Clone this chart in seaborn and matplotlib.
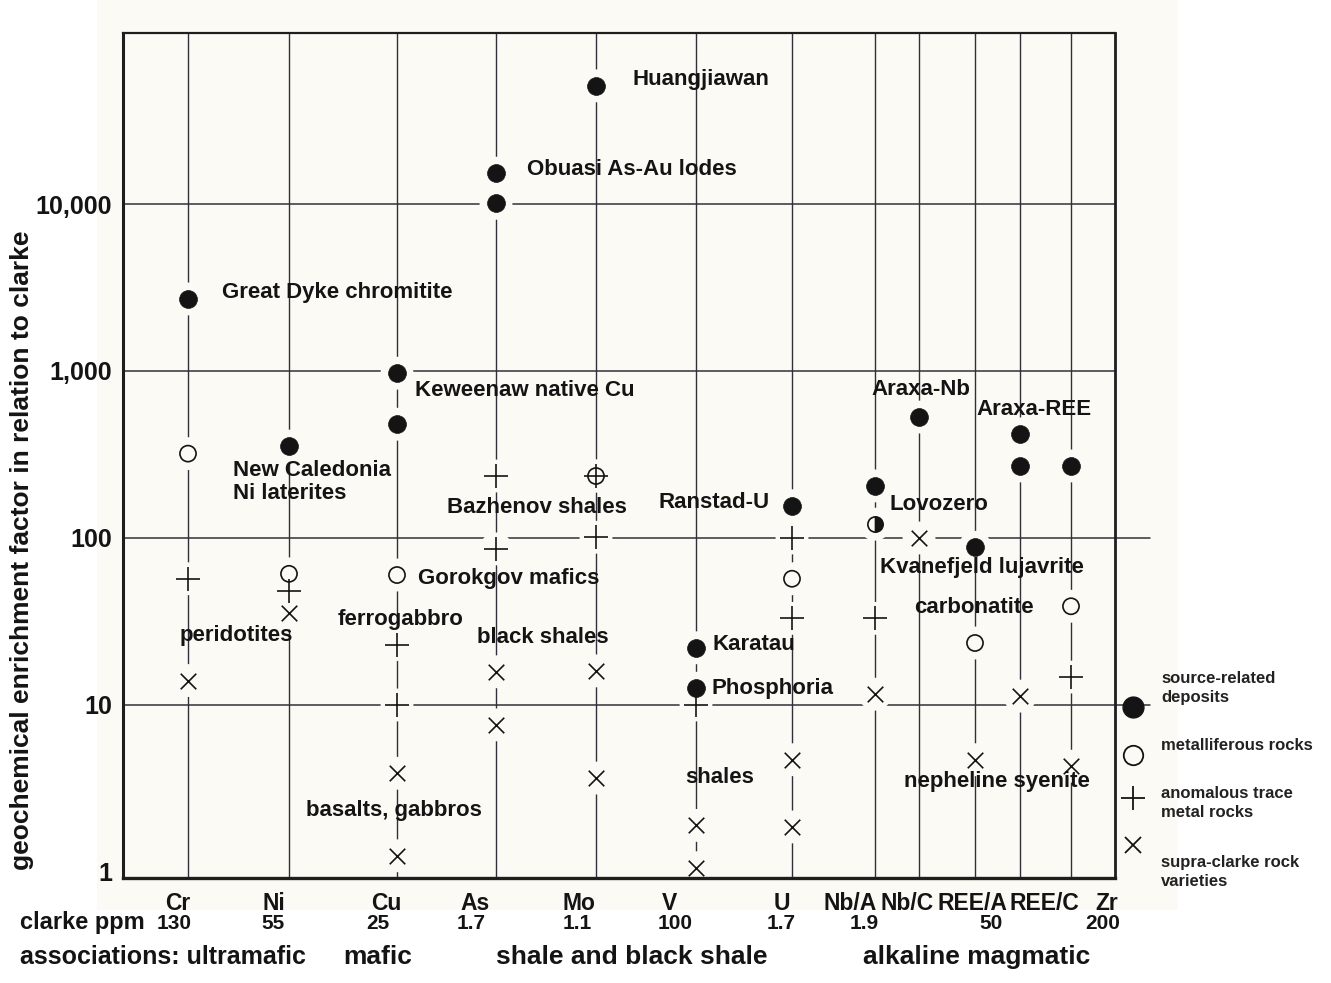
import numpy as np
import pandas as pd
import matplotlib
matplotlib.use("Agg")
import matplotlib.pyplot as plt
import matplotlib.transforms as mtransforms
from matplotlib.patches import Rectangle
from matplotlib.ticker import LogLocator, NullFormatter
import seaborn as sns

# ---------------- data ----------------
elements = ["Cr", "Ni", "Cu", "As", "Mo", "V", "U", "Nb/A", "Nb/C", "REE/A", "REE/C", "Zr"]
clarke_ppm = ["130", "55", "25", "1.7", "1.1", "100", "1.7", "1.9", "50", "200"]

# source-related deposits (filled circles)
deposit_el = ["Cr", "Ni", "Cu", "Cu", "As", "As", "Mo", "V", "V", "U",
              "Nb/A", "Nb/C", "REE/A", "REE/C", "REE/C", "Zr"]
deposit_val = [2700, 355, 970, 480, 15300, 10100, 51000, 22, 12.6, 156,
               205, 530, 88, 420, 270, 270]

# metalliferous rocks (open circles)
metal_el = ["Cr", "Ni", "Cu", "Mo", "U", "REE/A", "Zr"]
metal_val = [320, 61, 60, 235, 57, 23.5, 39]

# anomalous trace metal rocks (+)
anom_el = ["Cr", "Ni", "Cu", "Cu", "As", "As", "Mo", "Mo", "V", "U", "U", "Nb/A", "Zr"]
anom_val = [57, 48, 23, 10, 235, 86, 235, 101, 10, 100, 33, 33, 14.7]

# supra-clarke rock varieties (x)
supra_el = ["Cr", "Ni", "Cu", "Cu", "As", "As", "Mo", "Mo", "V", "V", "U", "U",
            "Nb/A", "Nb/C", "REE/A", "REE/C", "Zr"]
supra_val = [14, 35.5, 3.9, 1.25, 15.8, 7.6, 16, 3.65, 1.9, 1.06, 4.7, 1.86,
             11.6, 100, 4.7, 11.3, 4.3]

# Lovozero (half-filled circle)
lovozero_el = ["Nb/A"]
lovozero_val = [121]

# deposit / rock names
label_text = ["Huangjiawan", "Obuasi As-Au lodes", "Great Dyke chromitite",
              "Keweenaw native Cu", "New Caledonia\nNi laterites", "Bazhenov shales",
              "Ranstad-U", "Gorokgov mafics", "ferrogabbro", "peridotites",
              "black shales", "Karatau", "Phosphoria", "shales", "basalts, gabbros",
              "Araxa-Nb", "Araxa-REE", "Lovozero", "Kvanefjeld lujavrite",
              "carbonatite", "nepheline syenite"]

associations = ["mafic", "shale and black shale", "alkaline magmatic"]

# ---------------- layout ----------------
col_pos = dict(zip(elements, [0.65, 1.66, 2.74, 3.73, 4.73, 5.73, 6.69,
                              7.52, 7.96, 8.52, 8.97, 9.48]))
elem_label_x = [0.55, 1.51, 2.63, 3.52, 4.56, 5.46, 6.59, 7.27, 7.84, 8.49, 9.21, 9.84]
clarke_x = [0.51, 1.50, 2.55, 3.48, 4.54, 5.52, 6.58, 7.41, 8.68, 9.80]
assoc_x = [2.55, 5.09, 8.54]
label_xy = [(5.10, 55300), (4.04, 16000), (0.99, 2970), (2.92, 769), (1.10, 216),
            (3.24, 153), (5.35, 162), (2.95, 57.5), (2.15, 32.7), (0.57, 25.9),
            (3.54, 25.2), (5.89, 22.9), (5.88, 12.5), (5.62, 3.66), (1.83, 2.32),
            (7.48, 780), (8.53, 592), (7.66, 158), (7.57, 67), (7.91, 38.1),
            (7.81, 3.46)]

BG = "#fcfaf4"
INK = "#141414"
GRID = "#30303a"

sns.set_style("white")
plt.rcParams["font.family"] = ["Liberation Sans", "DejaVu Sans"]
plt.rcParams["font.weight"] = "bold"

fig = plt.figure(figsize=(13.31, 9.83), dpi=100, facecolor="white")
fig.patches.append(Rectangle((97 / 1331, 1 - 910 / 983), (1178 - 97) / 1331, 910 / 983,
                             transform=fig.transFigure, facecolor=BG,
                             edgecolor="none", zorder=-10))
ax = fig.add_axes([123 / 1331, 1 - 878 / 983, (1115 - 123) / 1331, (878 - 33) / 983])
ax.set_facecolor(BG)
ax.set_yscale("log")
ax.set_xlim(0, 9.92)
ax.set_ylim(0.92, 1.057e5)

# grid: one vertical line per element column, decade lines horizontally
for e in elements:
    ax.axvline(col_pos[e], color=GRID, lw=1.0, zorder=1)
for v in [10, 100, 1000, 10000]:
    ext = 1.035 if v in (10, 100) else 1.0
    ax.axhline(v, xmin=0, xmax=ext, color=GRID, lw=1.1, zorder=1, clip_on=False)


def frame(el, val):
    return pd.DataFrame({"x": [col_pos[e] for e in el], "y": val})


dep = frame(deposit_el, deposit_val)
met = frame(metal_el, metal_val)
ano = frame(anom_el, anom_val)
sup = frame(supra_el, supra_val)
lov = frame(lovozero_el, lovozero_val)

# paper-coloured halos break the grid lines around each symbol
halo = pd.concat([dep, met, ano, sup, lov])
sns.scatterplot(data=halo, x="x", y="y", marker="o", s=560, color=BG,
                edgecolor="none", ax=ax, zorder=2)

sns.scatterplot(data=dep, x="x", y="y", marker="o", s=165, color=INK,
                edgecolor=INK, linewidth=0.5, ax=ax, zorder=3)
sns.scatterplot(data=met, x="x", y="y", marker="o", s=135, color="none",
                edgecolor=INK, linewidth=1.2, ax=ax, zorder=3)
sns.scatterplot(data=ano, x="x", y="y", marker="+", s=280, color=INK,
                linewidth=1.2, ax=ax, zorder=3)
sns.scatterplot(data=sup, x="x", y="y", marker="x", s=125, color=INK,
                linewidth=1.2, ax=ax, zorder=3)
ax.plot(lov["x"], lov["y"], linestyle="none", marker="o", ms=11, fillstyle="right",
        markerfacecolor=INK, markerfacecoloralt=BG, markeredgecolor=INK,
        markeredgewidth=1.2, zorder=3)

for txt, (lx, ly) in zip(label_text, label_xy):
    ax.text(lx, ly, txt, fontsize=16, fontweight="bold", color=INK,
            ha="left", va="center", linespacing=1.1, zorder=4)

# axes frame and ticks
for side, lw in [("left", 2.2), ("bottom", 2.4), ("top", 1.6), ("right", 2.0)]:
    ax.spines[side].set_visible(True)
    ax.spines[side].set_linewidth(lw)
    ax.spines[side].set_color("#1e1e1e")

ax.set_yticks([1, 10, 100, 1000, 10000], labels=["1", "10", "100", "1,000", "10,000"])
ax.yaxis.set_minor_locator(LogLocator(base=10, subs=np.arange(1, 10), numticks=20))
ax.yaxis.set_minor_formatter(NullFormatter())
ax.tick_params(axis="y", which="major", direction="in", length=25, width=1.6,
               color="#1e1e1e", pad=8, labelsize=18, labelcolor=INK)
ax.tick_params(axis="y", which="minor", direction="in", length=13, width=1.6,
               color="#1e1e1e")
for t in ax.get_yticklabels():
    t.set_fontweight("bold")

ax.set_xticks([])
ax.set_xlabel("")
ax.set_ylabel("")

fig.text(22 / 1331, 1 - 550 / 983, "geochemical enrichment factor in relation to clarke",
         rotation=90, ha="center", va="center", fontsize=19, fontweight="bold", color=INK)

# rows under the axis: element names, clarke values, associations
row = mtransforms.blended_transform_factory(ax.transData, fig.transFigure)
for ex, el in zip(elem_label_x, elements):
    ax.text(ex, 1 - 910 / 983, el, transform=row, ha="center", va="baseline",
            fontsize=16.5, fontweight="bold", color=INK)
fig.text(20 / 1331, 1 - 929 / 983, "clarke ppm", ha="left", va="baseline",
         fontsize=17, fontweight="bold", color=INK)
for cx, cv in zip(clarke_x, clarke_ppm):
    ax.text(cx, 1 - 929 / 983, cv, transform=row, ha="center", va="baseline",
            fontsize=15, fontweight="bold", color=INK)
fig.text(20 / 1331, 1 - 964 / 983, "associations: ultramafic", ha="left", va="baseline",
         fontsize=18, fontweight="bold", color=INK)
for axx, at in zip(assoc_x, associations):
    ax.text(axx, 1 - 964 / 983, at, transform=row, ha="center", va="baseline",
            fontsize=19, fontweight="bold", color=INK)

# key to symbols
key_x = 1133 / 1331
key_marks = [("o", 707, dict(ms=15, mfc=INK, mec=INK, mew=1.0)),
             ("o", 755, dict(ms=14, mfc="none", mec=INK, mew=1.3)),
             ("+", 798, dict(ms=17, mec=INK, mew=1.3)),
             ("x", 845, dict(ms=12, mec=INK, mew=1.3))]
for m, py, kw in key_marks:
    fig.add_artist(plt.Line2D([key_x], [1 - py / 983], marker=m, linestyle="none",
                              transform=fig.transFigure, **kw))
key_text = [("source-related\ndeposits", 688), ("metalliferous rocks", 746),
            ("anomalous trace\nmetal rocks", 803), ("supra-clarke rock\nvarieties", 872)]
for txt, py in key_text:
    fig.text(1161 / 1331, 1 - py / 983, txt, ha="left", va="center", fontsize=12,
             fontweight="bold", color="#222222", linespacing=1.4)

fig.savefig("out.png", dpi=100, facecolor="white")
